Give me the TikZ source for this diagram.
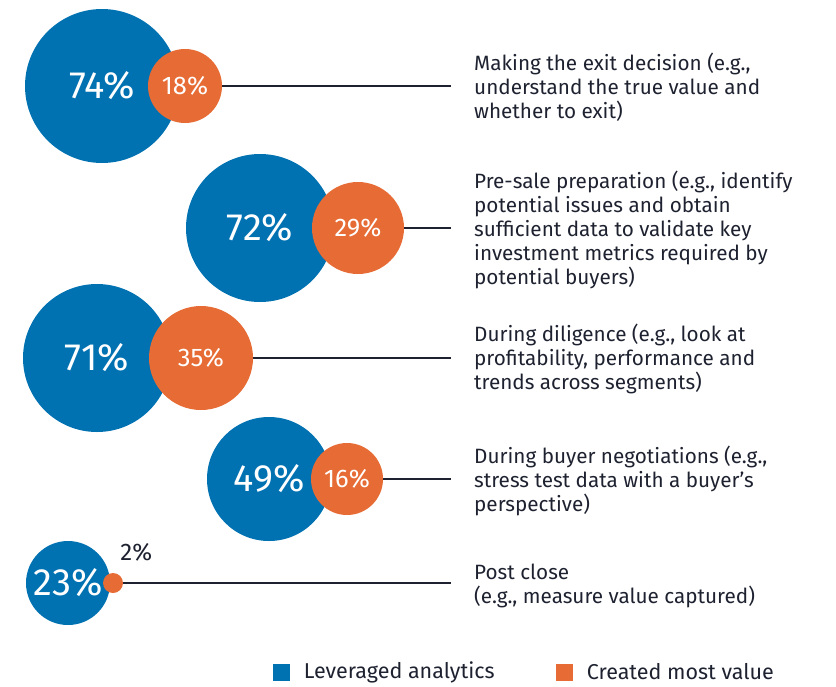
\documentclass[tikz,border=0pt]{standalone}
\usepackage{fontspec}
\setmainfont{Fira Sans}
\usepackage{tikz}
\usetikzlibrary{positioning}
\definecolor{eyblue}{RGB}{0,114,178}
\definecolor{eyorange}{RGB}{230,107,52}
\definecolor{ink}{RGB}{30,34,48}
\tikzset{
	leverage/.style={circle, fill=eyblue, text=white, inner sep=0pt, font=\fontsize{38}{38}\selectfont}, % big blue bubbles
	value/.style={circle, fill=eyorange, text=white, inner sep=0pt, font=\fontsize{25.5}{25.5}\selectfont}, % orange bubbles
	stage/.style={anchor=west, align=left, inner sep=0pt, text=ink, font=\fontsize{20.7}{24}\selectfont}, % text on the right
	connector/.style={draw=ink, line width=2.2pt, shorten >=23pt}, % line from bubble to text
	legendbox/.style={rectangle, minimum size=17pt, inner sep=0pt},
	legendtext/.style={text=ink, inner sep=0pt, font=\fontsize{21.5}{24}\selectfont},
}

\begin{document}
\begin{tikzpicture}[x=1pt, y=-1pt]
				\useasboundingbox (0,0) rectangle (836,686);
				% Bubbles
				\node[leverage, minimum size=154pt] (a1) at (102,86) {74\%};
				\node[value, minimum size=74pt] (b1) at (185,86) {18\%};
				\node[leverage, minimum size=148pt] (a2) at (260,228) {72\%};
				\node[value, minimum size=92pt] (b2) at (358,228) {29\%};
				\node[leverage, minimum size=148pt] (a3) at (97,358) {71\%};
				\node[value, minimum size=104pt] (b3) at (201,358) {35\%};
				\node[leverage, minimum size=124pt] (a4) at (269,479) {49\%};
				\node[value, minimum size=72pt] (b4) at (347,479) {16\%};
				\node[leverage, minimum size=84pt] (a5) at (68,583) {23\%};
				\node[value, minimum size=20pt] (b5) at (113,583) {};
				\node[text=ink, inner sep=0pt, font=\fontsize{24}{24}\selectfont, above right=14pt and 0pt of b5] (p5) {2\%};
				
				% Stages
				\node[stage] (t1) at (474,87) {Making the exit decision (e.g.,\\understand the true value and\\whether to exit)};
				\node[stage] (t2) at (474,230) {Pre-sale preparation (e.g., identify\\potential issues and obtain\\sufficient data to validate key\\investment metrics required by\\potential buyers)};
				\node[stage] (t3) at (474,359) {During diligence (e.g., look at\\profitability, performance and\\trends across segments)};
				\node[stage] (t4) at (474,481) {During buyer negotiations (e.g.,\\stress test data with a buyer’s\\perspective)};
				\node[stage] (t5) at (474,586) {Post close\\(e.g., measure value captured)};
				
				% Connectors
				\path[connector]
				(b1) edge (b1 -| t1.west)
				(b2) edge (b2 -| t2.west)
				(b3) edge (b3 -| t3.west)
				(b4) edge (b4 -| t4.west)
				(b5) edge (b5 -| t5.west);
				
				% Legend
				\node[legendbox, fill=eyblue] (l1) at (281,672) {};
				\node[legendtext, right=14pt of l1] (lt1) {Leveraged analytics};
				\node[legendbox, fill=eyorange] (l2) at (564,672) {};
				\node[legendtext, right=14pt of l2] (lt2) {Created most value};
			\end{tikzpicture}
\end{document}
